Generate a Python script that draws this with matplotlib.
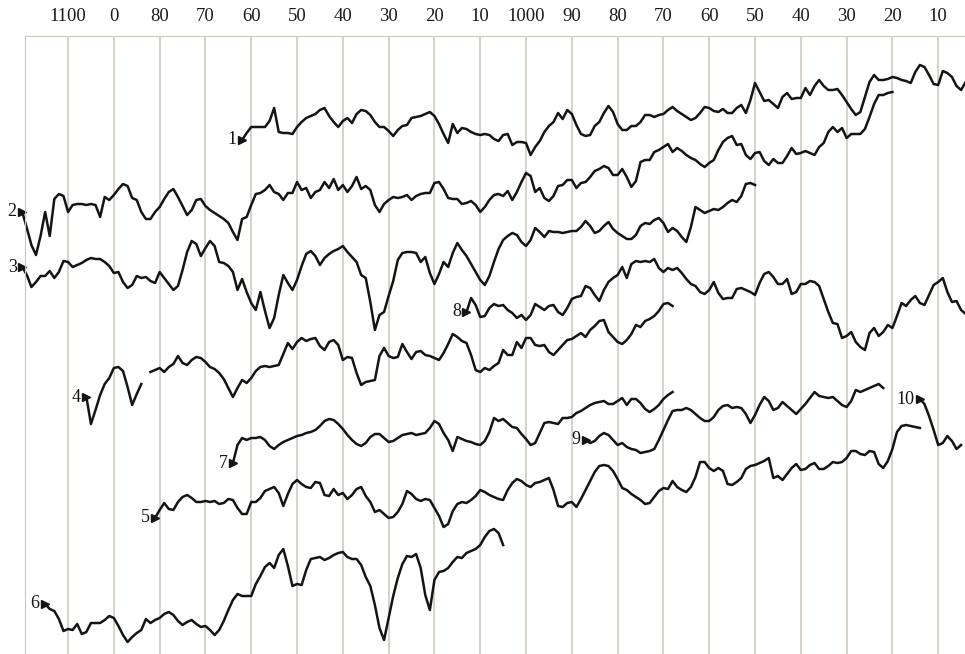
import numpy as np
import matplotlib.pyplot as plt

# decade rulings along the top (years decrease to the right)
decades = list(range(1100, 900, -10))
decade_labels = ["1100", "0", "80", "70", "60", "50", "40", "30", "20", "10",
                 "1000", "90", "80", "70", "60", "50", "40", "30", "20", "10"]
bold_decades = [1100, 1010, 1000]

# each curve: leftmost year, then one reading per year (plotted downward)
s1_first = 1062
s1 = [140, 133, 127, 127, 127, 127, 121, 108, 132, 133,
      133, 134, 127, 122, 118, 116, 114, 110, 108, 116,
      122, 127, 121, 118, 123, 114, 110, 111, 115, 122,
      127, 127, 131, 136, 130, 126, 125, 118, 117, 116,
      114, 112, 116, 124, 134, 143, 124, 133, 128, 129,
      132, 134, 135, 134, 135, 139, 141, 135, 134, 145,
      142, 142, 143, 155, 147, 141, 132, 126, 122, 113,
      119, 110, 114, 125, 134, 136, 135, 126, 122, 113,
      106, 112, 124, 130, 130, 126, 126, 122, 115, 115,
      117, 115, 114, 110, 107, 111, 114, 117, 120, 118,
      113, 107, 108, 111, 112, 109, 113, 113, 108, 105,
      113, 100, 83, 92, 101, 100, 104, 108, 97, 93,
      99, 98, 98, 88, 95, 86, 80, 86, 90, 90,
      89, 95, 102, 109, 115, 112, 97, 82, 75, 80,
      80, 79, 77, 78, 80, 81, 83, 72, 65, 67,
      75, 84, 85, 71, 73, 77, 86, 90, 82]

s2_first = 1110
s2 = [212, 228, 245, 255, 236, 212, 236, 199, 194, 196,
      212, 205, 204, 204, 205, 204, 205, 217, 197, 200,
      195, 189, 184, 186, 198, 200, 212, 219, 219, 212,
      207, 199, 192, 189, 197, 206, 215, 210, 200, 199,
      206, 210, 213, 216, 219, 223, 232, 240, 219, 217,
      205, 194, 193, 190, 185, 192, 194, 200, 193, 193,
      182, 190, 188, 198, 192, 190, 182, 188, 179, 190,
      185, 192, 186, 177, 189, 186, 190, 205, 212, 204,
      200, 197, 198, 197, 195, 200, 196, 194, 193, 193,
      183, 182, 189, 198, 199, 199, 204, 203, 201, 205,
      212, 207, 200, 195, 194, 196, 191, 200, 192, 182,
      173, 176, 192, 188, 198, 201, 196, 186, 185, 180,
      180, 188, 183, 182, 177, 171, 169, 166, 168, 175,
      175, 169, 177, 187, 181, 162, 160, 160, 152, 150,
      147, 144, 152, 148, 151, 155, 158, 160, 164, 167,
      163, 160, 150, 142, 138, 136, 145, 144, 155, 159,
      153, 152, 161, 165, 159, 163, 163, 156, 148, 154,
      153, 151, 153, 155, 147, 143, 132, 127, 132, 128,
      138, 134, 134, 134, 129, 117, 104, 95, 95, 93,
      92]

s3_first = 1110
s3 = [267, 275, 287, 282, 276, 276, 271, 278, 272, 261,
      262, 267, 265, 263, 260, 258, 259, 259, 262, 266,
      273, 272, 282, 288, 285, 276, 278, 277, 281, 283,
      272, 278, 284, 290, 286, 270, 252, 241, 244, 256,
      248, 241, 246, 262, 263, 266, 272, 290, 279, 292,
      303, 310, 292, 311, 328, 318, 295, 275, 283, 290,
      280, 266, 254, 251, 256, 265, 258, 254, 251, 249,
      246, 252, 257, 262, 275, 278, 302, 330, 315, 312,
      296, 281, 260, 253, 252, 252, 253, 262, 257, 273,
      284, 274, 262, 267, 253, 243, 250, 256, 264, 272,
      280, 285, 276, 262, 249, 240, 236, 233, 235, 242,
      246, 240, 228, 232, 237, 231, 232, 232, 233, 232,
      231, 231, 227, 221, 226, 233, 231, 226, 222, 229,
      233, 236, 239, 239, 235, 226, 223, 224, 220, 218,
      223, 232, 228, 231, 237, 242, 227, 207, 210, 213,
      211, 209, 210, 207, 203, 200, 202, 196, 184, 183,
      185]

s4a_first = 1096
s4a = [397, 424, 410, 395, 384, 378, 368, 367, 371, 387, 405, 394, 384]

s4b_first = 1082
s4b = [372, 370, 368, 372, 367, 364, 356, 363, 365, 360,
       357, 358, 362, 367, 369, 373, 379, 388, 397, 388,
       380, 383, 378, 371, 367, 366, 367, 366, 365, 354,
       343, 349, 342, 338, 341, 339, 338, 346, 350, 342,
       340, 345, 360, 357, 358, 373, 385, 382, 381, 380,
       356, 348, 356, 358, 357, 344, 352, 359, 352, 351,
       355, 356, 358, 360, 353, 344, 334, 337, 341, 343,
       355, 370, 372, 368, 370, 366, 363, 350, 355, 355,
       342, 348, 338, 338, 345, 346, 345, 352, 355, 350,
       345, 340, 339, 336, 333, 337, 330, 326, 321, 320,
       332, 337, 342, 344, 340, 334, 325, 327, 321, 319,
       316, 311, 304, 303, 306]

s5_first = 1081
s5 = [518, 510, 503, 509, 510, 502, 497, 495, 498, 502,
      502, 501, 502, 501, 504, 503, 499, 500, 508, 514,
      514, 502, 502, 498, 491, 489, 487, 493, 506, 494,
      484, 480, 484, 487, 488, 482, 483, 495, 496, 489,
      495, 493, 499, 495, 489, 487, 496, 502, 512, 510,
      514, 518, 517, 512, 504, 491, 494, 499, 501, 499,
      500, 508, 516, 527, 524, 511, 504, 502, 503, 500,
      496, 490, 492, 495, 497, 499, 500, 490, 483, 479,
      481, 485, 487, 483, 482, 480, 478, 490, 506, 507,
      503, 502, 507, 499, 490, 481, 472, 466, 465, 466,
      471, 479, 488, 490, 494, 497, 500, 504, 503, 497,
      491, 488, 489, 481, 487, 490, 492, 487, 477, 462,
      462, 468, 471, 468, 471, 484, 485, 482, 478, 469,
      466, 465, 463, 461, 458, 478, 476, 480, 474, 468,
      464, 470, 469, 465, 463, 469, 469, 466, 462, 463,
      462, 458, 451, 451, 454, 455, 451, 452, 464, 468,
      461, 449, 432, 426, 425, 426, 427, 428]

s6_first = 1105
s6 = [604, 609, 611, 619, 631, 629, 630, 624, 634, 632,
      623, 623, 623, 620, 616, 618, 626, 635, 642, 637,
      633, 630, 619, 623, 620, 618, 614, 612, 615, 621,
      625, 622, 620, 624, 627, 626, 630, 635, 630, 621,
      610, 600, 594, 596, 596, 596, 584, 576, 567, 563,
      568, 555, 549, 566, 586, 584, 585, 570, 559, 558,
      557, 560, 558, 555, 553, 552, 557, 559, 559, 565,
      577, 586, 605, 628, 640, 618, 596, 578, 564, 556,
      557, 554, 568, 595, 610, 580, 572, 571, 568, 562,
      557, 558, 553, 551, 549, 545, 537, 531, 529, 533,
      545]

s7_first = 1064
s7 = [463, 445, 438, 440, 438, 438, 437, 440, 446, 449,
      445, 442, 440, 438, 436, 435, 433, 432, 430, 426,
      421, 419, 420, 424, 429, 435, 440, 444, 446, 443,
      437, 434, 434, 438, 442, 441, 438, 435, 434, 433,
      435, 434, 433, 428, 421, 424, 433, 440, 451, 437,
      439, 441, 442, 444, 445, 441, 432, 418, 421, 419,
      423, 427, 428, 434, 439, 445, 443, 433, 423, 422,
      423, 424, 418, 418, 417, 413, 411, 408, 405, 403,
      402, 401, 404, 404, 401, 398, 405, 399, 399, 403,
      409, 412, 409, 405, 399, 395, 392]

s8_first = 1013
s8 = [312, 298, 305, 317, 316, 308, 304, 306, 305, 310,
      313, 318, 315, 320, 315, 304, 307, 310, 306, 305,
      312, 315, 308, 299, 297, 296, 286, 288, 295, 301,
      290, 282, 278, 275, 267, 278, 264, 261, 262, 261,
      262, 259, 268, 272, 268, 270, 268, 273, 279, 284,
      286, 292, 294, 290, 282, 293, 299, 298, 298, 289,
      288, 290, 292, 295, 283, 274, 272, 277, 284, 284,
      279, 294, 292, 284, 284, 281, 282, 286, 299, 312,
      323, 324, 338, 336, 332, 342, 347, 350, 333, 328,
      336, 332, 325, 328, 316, 303, 306, 300, 296, 303,
      305, 295, 285, 282, 278, 292, 302, 301, 310, 314]

s9_first = 987
s9 = [440, 443, 441, 436, 433, 435, 440, 445, 443, 447,
      449, 450, 453, 452, 451, 449, 440, 430, 420, 411,
      410, 410, 408, 410, 414, 418, 421, 421, 417, 410,
      406, 405, 408, 407, 408, 414, 423, 415, 405, 397,
      401, 410, 408, 402, 406, 410, 414, 409, 404, 398,
      392, 396, 397, 398, 397, 401, 405, 407, 401, 390,
      392, 390, 388, 386, 384, 388]

s10_first = 914
s10 = [399, 404, 416, 430, 445, 443, 436, 441, 449, 445]

curves = [("1", s1_first, s1), ("2", s2_first, s2), ("3", s3_first, s3),
          ("4", s4a_first, s4a), ("", s4b_first, s4b), ("5", s5_first, s5),
          ("6", s6_first, s6), ("7", s7_first, s7), ("8", s8_first, s8),
          ("9", s9_first, s9), ("10", s10_first, s10)]

ink = "#141414"
rule = "#cdc5bc"
serif = ["Liberation Serif", "DejaVu Serif"]

fig = plt.figure(figsize=(9.65, 6.54), dpi=100)
ax = fig.add_axes([25 / 965, 0, 940 / 965, 618 / 654])

for label, first, vals in curves:
    yrs = first - np.arange(len(vals))
    ax.plot(yrs, vals, color=ink, lw=1.8, solid_joinstyle="round", clip_on=False)
    if label:
        ax.plot(yrs[0], vals[0], marker=">", ms=5.5, color=ink, clip_on=False)
        ax.annotate(label, (yrs[0], vals[0]), xytext=(-4, 0), textcoords="offset points",
                    ha="right", va="center", fontsize=13, family=serif,
                    color=ink, annotation_clip=False)

ax.set_xlim(1109.4, 904.15)
ax.set_ylim(654, 36)
ax.set_xticks(decades)
ax.set_xticklabels(decade_labels, family=serif, fontsize=13.5, color="#1a1a1a")
for yr, lab in zip(decades, ax.get_xticklabels()):
    if yr in bold_decades:
        lab.set_fontweight("bold")
ax.tick_params(axis="x", top=True, bottom=False, labeltop=True, labelbottom=False,
               length=0, pad=8)
ax.set_yticks([])
ax.grid(axis="x", color=rule, lw=1.1)
for side in ["right", "bottom"]:
    ax.spines[side].set_visible(False)
ax.spines["top"].set_color("#d6c8b6")
ax.spines["left"].set_color(rule)

fig.savefig("out.png", dpi=100)
